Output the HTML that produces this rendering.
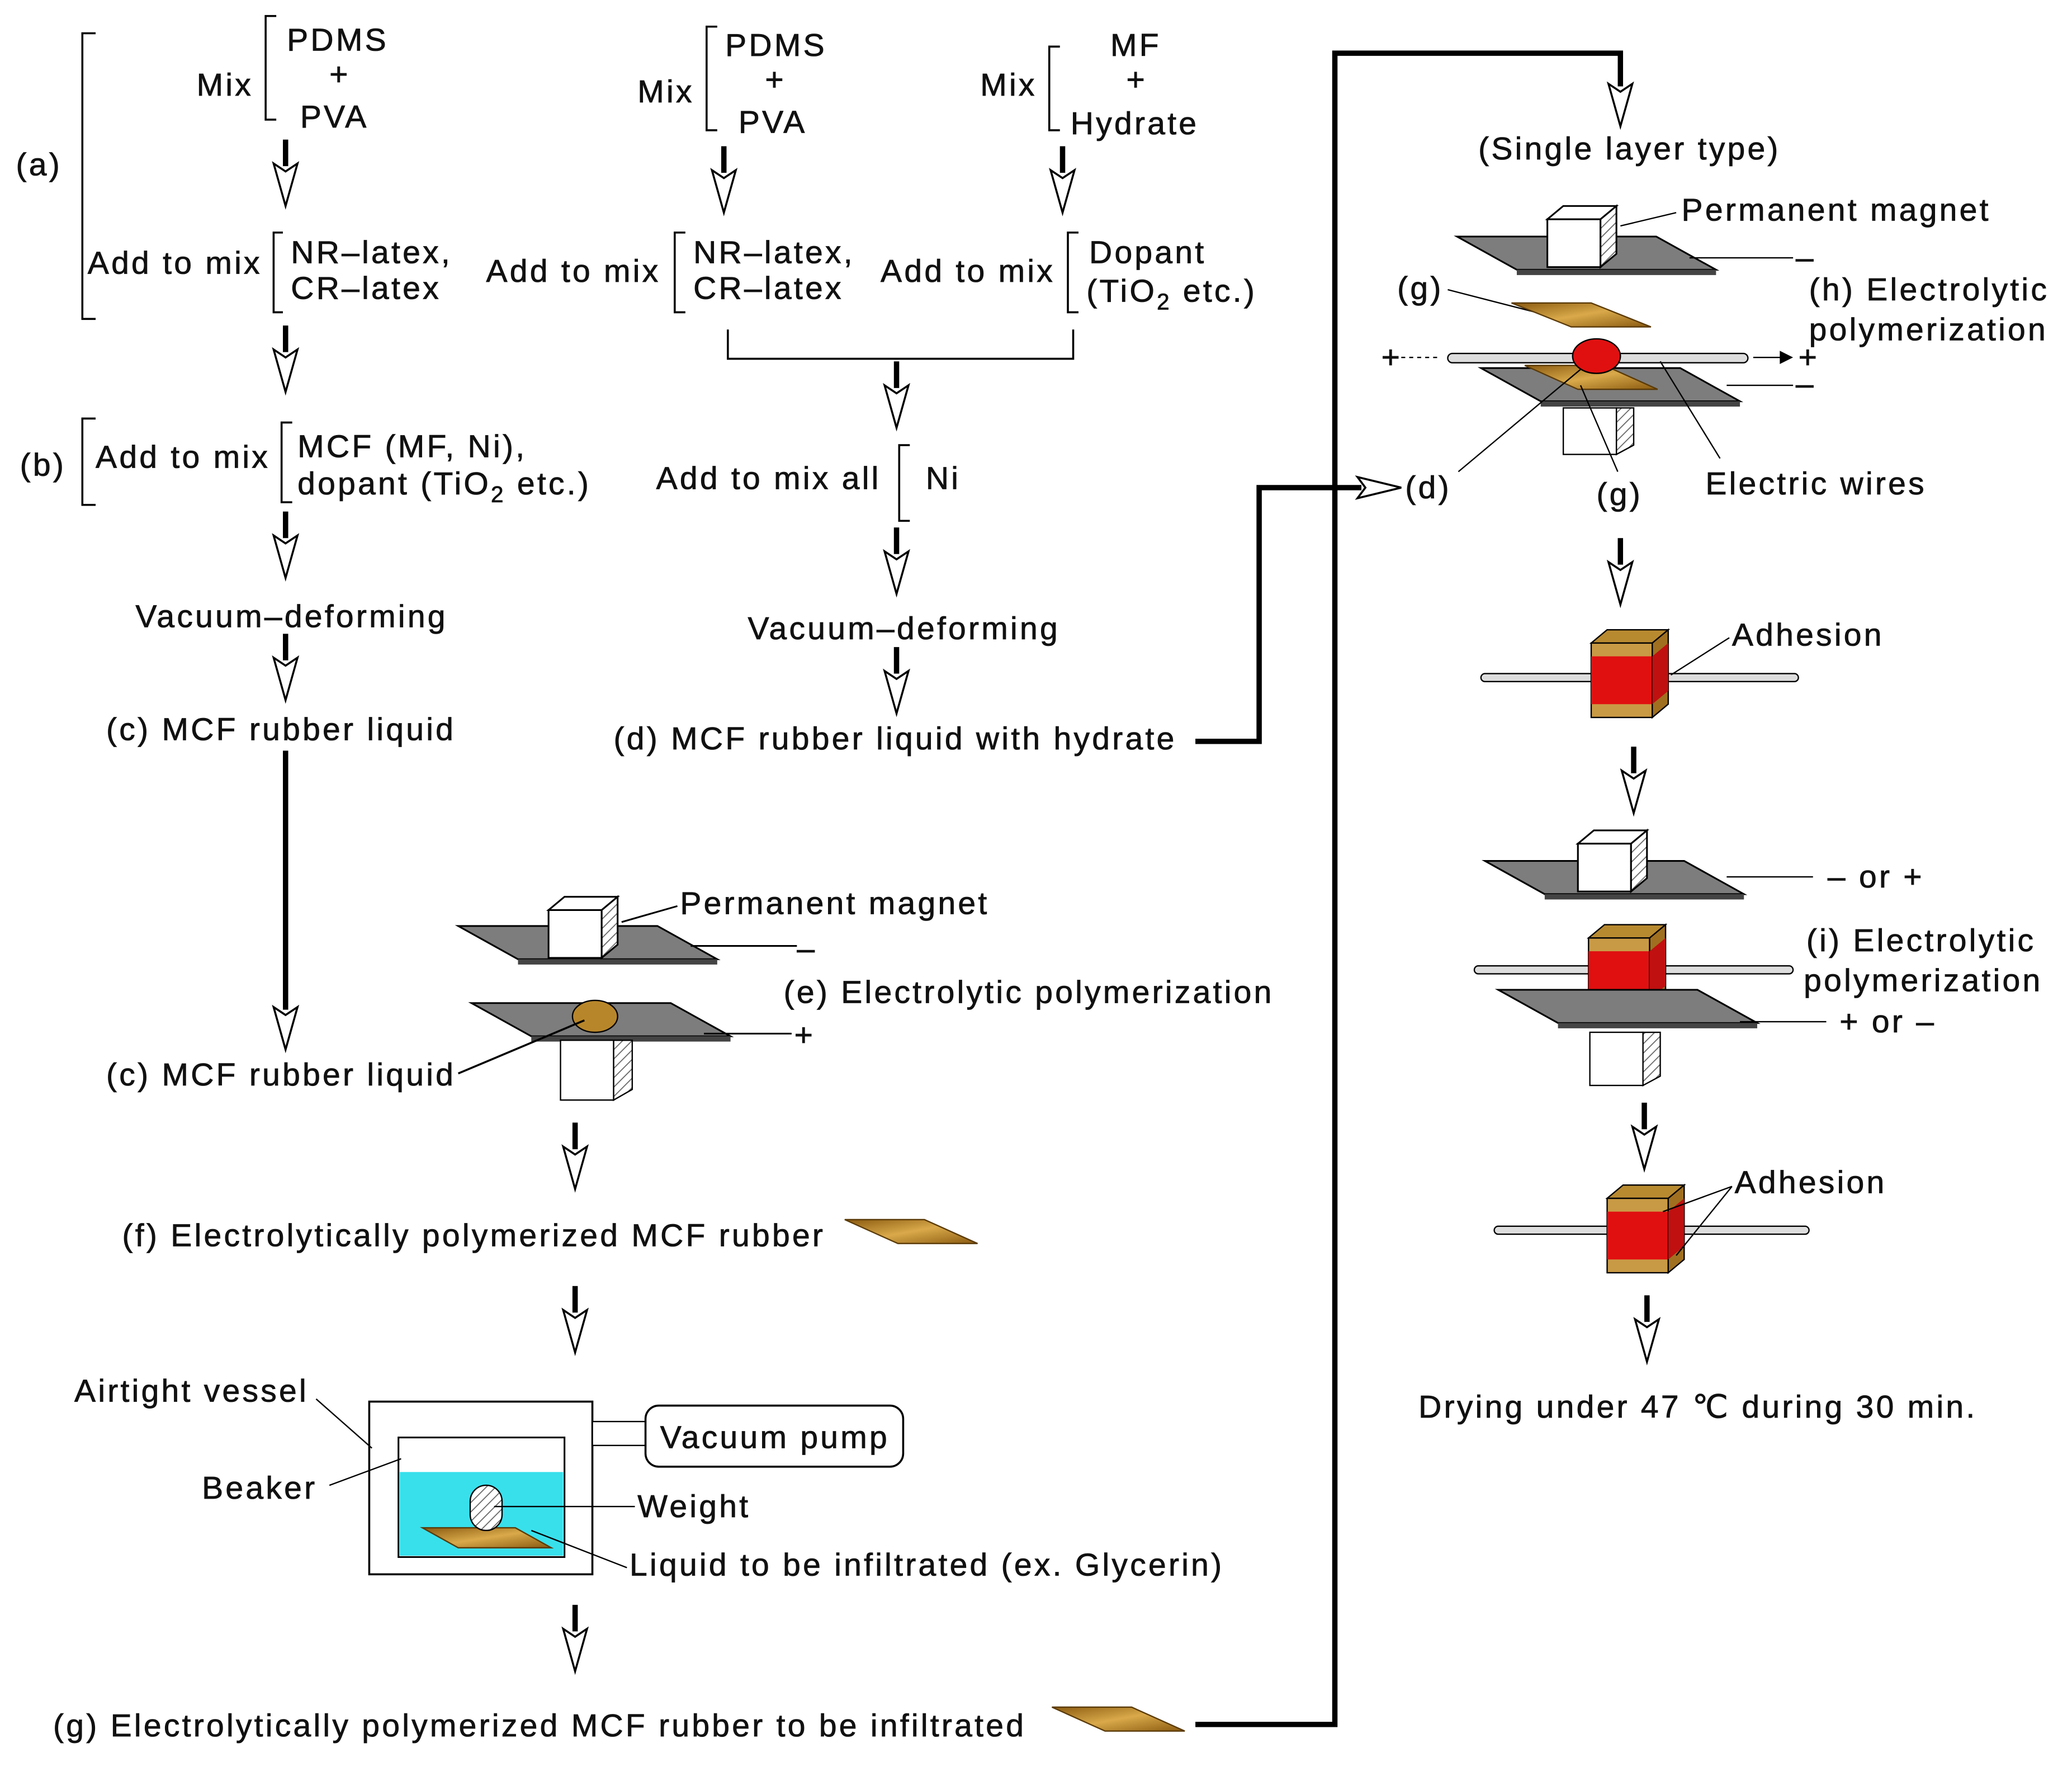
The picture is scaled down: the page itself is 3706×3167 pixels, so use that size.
<!DOCTYPE html>
<html><head><meta charset="utf-8"><style>
html,body{margin:0;padding:0;background:#fff;}
svg{display:block;}
text{font-family:"Liberation Sans",sans-serif;font-size:24px;letter-spacing:1.8px;fill:#111;stroke:#111;stroke-width:0.35px;}
</style></head><body>
<svg width="3706" height="3167" viewBox="0 0 1560 1333" xmlns="http://www.w3.org/2000/svg">
<defs>
<symbol id="da" overflow="visible"><line x1="0" y1="0" x2="0" y2="20" stroke="#000" stroke-width="4"/><polygon points="-9,18 0,24 9,18 0,50" fill="#fff" stroke="#000" stroke-width="1.5"/></symbol>
<pattern id="hat" width="5" height="5" patternUnits="userSpaceOnUse" patternTransform="rotate(45)"><rect width="5" height="5" fill="#fff"/><line x1="0" y1="0" x2="0" y2="5" stroke="#666" stroke-width="1.5"/></pattern>
<linearGradient id="gold" x1="0" y1="0" x2="1" y2="1"><stop offset="0" stop-color="#8a5a10"/><stop offset="0.5" stop-color="#d9a94a"/><stop offset="1" stop-color="#8a5a10"/></linearGradient>
<symbol id="mag" overflow="visible"><polygon points="0,10 12,0 52,0 40,10" fill="#fff" stroke="#000" stroke-width="1.3"/><rect x="0" y="10" width="40" height="36" fill="#fff" stroke="#000" stroke-width="1.3"/><polygon points="40,10 52,0 52,36 40,46" fill="url(#hat)" stroke="#000" stroke-width="1.3"/></symbol>
<symbol id="plate" overflow="visible"><polygon points="0,0 150,0 195,25 45,25" fill="#7d7d7d" stroke="#000" stroke-width="1.3"/><polygon points="45,25 195,25 195,29 45,29" fill="#444"/></symbol>
<symbol id="cube" overflow="visible"><polygon points="0,10 12,0 58,0 46,10" fill="#b88a30" stroke="#000" stroke-width="1"/><rect x="0" y="10" width="46" height="56" fill="#c99a45" stroke="#000"/><rect x="0" y="20" width="46" height="36" fill="#e01010"/><polygon points="46,10 58,0 58,56 46,66" fill="#a07020" stroke="#000"/><polygon points="46,20 58,10 58,46 46,56" fill="#c01010"/></symbol>
</defs>
<g stroke="#000" stroke-width="1.5" fill="none">
<path d="M72,25 H62 V240 H72"/>
<path d="M72,315 H62 V380 H72"/>
<path d="M208,12 H200 V90 H208"/>
<path d="M213,175 H206 V235 H213"/>
<path d="M220,318 H212 V378 H220"/>
<path d="M540,20 H532 V98 H540"/>
<path d="M516,175 H508 V235 H516"/>
<path d="M798,35 H790 V98 H798"/>
<path d="M812,175 H804 V235 H812"/>
<path d="M685,335 H677 V392 H685"/>
<path d="M548,248 V270 H808 V248"/>
</g>
<text x="12" y="132">(a)</text>
<text x="148" y="72">Mix</text>
<text x="216" y="38">PDMS</text><text x="248" y="64">+</text><text x="226" y="96">PVA</text>
<text x="66" y="206">Add to mix</text>
<text x="219" y="198">NR–latex,</text><text x="219" y="225">CR–latex</text>
<text x="15" y="358">(b)</text>
<text x="72" y="352">Add to mix</text>
<text x="224" y="344">MCF (MF, Ni),</text><text x="224" y="372">dopant (TiO<tspan font-size="17" dy="6">2</tspan><tspan dy="-6"> etc.)</tspan></text>
<text x="102" y="472">Vacuum–deforming</text>
<text x="80" y="557">(c) MCF rubber liquid</text>
<text x="480" y="77">Mix</text>
<text x="546" y="42">PDMS</text><text x="576" y="68">+</text><text x="556" y="100">PVA</text>
<text x="738" y="72">Mix</text>
<text x="836" y="42">MF</text><text x="848" y="68">+</text><text x="806" y="101">Hydrate</text>
<text x="366" y="212">Add to mix</text>
<text x="522" y="198">NR–latex,</text><text x="522" y="225">CR–latex</text>
<text x="663" y="212">Add to mix</text>
<text x="820" y="198">Dopant</text><text x="818" y="227">(TiO<tspan font-size="17" dy="6">2</tspan><tspan dy="-6"> etc.)</tspan></text>
<text x="494" y="368">Add to mix all</text><text x="697" y="368">Ni</text>
<text x="563" y="481">Vacuum–deforming</text>
<text x="462" y="564">(d) MCF rubber liquid with hydrate</text>
<use href="#da" x="215" y="105"/><use href="#da" x="215" y="245"/><use href="#da" x="215" y="385"/><use href="#da" x="215" y="477"/>
<use href="#da" x="545" y="110"/><use href="#da" x="800" y="110"/><use href="#da" x="675" y="272"/><use href="#da" x="675" y="397"/><use href="#da" x="675" y="487"/>
<line x1="215" y1="565" x2="215" y2="760" stroke="#000" stroke-width="4"/><polygon points="206,758 215,764 224,758 215,790" fill="#fff" stroke="#000" stroke-width="1.5"/>
<use href="#da" x="433" y="845"/><use href="#da" x="433" y="968"/><use href="#da" x="433" y="1208"/>
<use href="#da" x="1220" y="405"/><use href="#da" x="1230" y="562"/><use href="#da" x="1238" y="830"/><use href="#da" x="1240" y="975"/>
<polyline points="900,1298 1005,1298 1005,40 1220,40 1220,65" fill="none" stroke="#000" stroke-width="4"/>
<polygon points="1211,63 1220,69 1229,63 1220,95" fill="#fff" stroke="#000" stroke-width="1.5"/>
<polyline points="900,558 948,558 948,367 1025,367" fill="none" stroke="#000" stroke-width="4"/>
<polygon points="1022,359 1028,367 1022,375 1055,367" fill="#fff" stroke="#000" stroke-width="1.5"/>
<use href="#plate" x="345" y="697"/>
<use href="#mag" x="413" y="675"/>
<line x1="520" y1="712" x2="600" y2="712" stroke="#000" stroke-width="1.3"/><text x="600" y="722">–</text>
<use href="#plate" x="355" y="755"/>
<ellipse cx="448" cy="765" rx="17" ry="12" fill="#b8862a" stroke="#000"/>
<rect x="422" y="783" width="40" height="45" fill="#fff" stroke="#000"/><polygon points="462,783 476,783 476,820 462,828" fill="url(#hat)" stroke="#000"/>
<line x1="530" y1="778" x2="596" y2="778" stroke="#000" stroke-width="1.3"/><text x="598" y="787">+</text>
<line x1="468" y1="694" x2="510" y2="682" stroke="#000" stroke-width="1.3"/>
<text x="512" y="688">Permanent magnet</text>
<text x="590" y="755">(e) Electrolytic polymerization</text>
<text x="80" y="817">(c) MCF rubber liquid</text>
<line x1="345" y1="808" x2="440" y2="768" stroke="#000" stroke-width="1.5"/>
<text x="92" y="938">(f) Electrolytically polymerized MCF rubber</text>
<g transform="translate(636,918)"><polygon points="0,0 60,0 100,18 40,18" fill="url(#gold)" stroke="#5a3a08"/></g>
<rect x="278" y="1055" width="168" height="130" fill="#fff" stroke="#000" stroke-width="1.5"/>
<rect x="300" y="1082" width="125" height="90" fill="#fff" stroke="#000" stroke-width="1.3"/>
<rect x="301" y="1108" width="123" height="63" fill="#38e0ec"/>
<polygon points="318,1150 388,1150 415,1165 345,1165" fill="url(#gold)" stroke="#5a3a08"/>
<rect x="354" y="1118" width="24" height="34" rx="12" fill="url(#hat)" stroke="#000"/>
<rect x="446" y="1070" width="40" height="18" fill="#fff" stroke="#000"/>
<rect x="486" y="1058" width="194" height="46" rx="10" fill="#fff" stroke="#000" stroke-width="1.5"/>
<text x="497" y="1090">Vacuum pump</text>
<text x="56" y="1055">Airtight vessel</text><line x1="238" y1="1053" x2="280" y2="1090" stroke="#000"/>
<text x="152" y="1128">Beaker</text><line x1="248" y1="1118" x2="302" y2="1098" stroke="#000"/>
<text x="480" y="1142">Weight</text><line x1="372" y1="1134" x2="478" y2="1134" stroke="#000"/>
<text x="474" y="1186">Liquid to be infiltrated (ex. Glycerin)</text><line x1="400" y1="1152" x2="472" y2="1180" stroke="#000"/>
<text x="40" y="1307">(g) Electrolytically polymerized MCF rubber to be infiltrated</text>
<g transform="translate(792,1285)"><polygon points="0,0 60,0 100,18 40,18" fill="url(#gold)" stroke="#5a3a08"/></g>
<text x="1113" y="120">(Single layer type)</text>
<use href="#plate" x="1097" y="178"/>
<use href="#mag" x="1165" y="155"/>
<line x1="1220" y1="170" x2="1262" y2="160" stroke="#000"/><text x="1266" y="166">Permanent magnet</text>
<line x1="1272" y1="194" x2="1350" y2="194" stroke="#000"/><text x="1352" y="202">–</text>
<text x="1052" y="225">(g)</text><line x1="1090" y1="218" x2="1160" y2="236" stroke="#000"/>
<g transform="translate(1138,228)"><polygon points="0,0 60,0 105,18 45,18" fill="url(#gold)" stroke="#5a3a08"/></g>
<text x="1362" y="226">(h) Electrolytic</text><text x="1362" y="256">polymerization</text>
<use href="#plate" x="1115" y="277"/>
<g transform="translate(1148,275)"><polygon points="0,0 60,0 100,18 40,18" fill="url(#gold)" stroke="#5a3a08"/></g>
<rect x="1090" y="266" width="226" height="7" rx="3.5" fill="#ddd" stroke="#000"/>
<ellipse cx="1202" cy="268" rx="18" ry="13" fill="#e01010" stroke="#000"/>
<text x="1040" y="277">+</text><line x1="1055" y1="269" x2="1085" y2="269" stroke="#000" stroke-dasharray="3,3"/>
<line x1="1320" y1="269" x2="1345" y2="269" stroke="#000"/><polygon points="1340,264 1350,269 1340,274" fill="#000"/><text x="1354" y="277">+</text>
<line x1="1300" y1="290" x2="1350" y2="290" stroke="#000"/><text x="1352" y="297">–</text>
<rect x="1177" y="307" width="40" height="35" fill="#fff" stroke="#000"/><polygon points="1217,307 1230,307 1230,335 1217,342" fill="url(#hat)" stroke="#000"/>
<line x1="1098" y1="355" x2="1190" y2="278" stroke="#000"/>
<text x="1058" y="375">(d)</text>
<text x="1202" y="380">(g)</text><line x1="1218" y1="355" x2="1190" y2="290" stroke="#000"/>
<line x1="1295" y1="345" x2="1250" y2="272" stroke="#000"/>
<text x="1284" y="372">Electric wires</text>
<rect x="1115" y="507" width="110" height="6" rx="3" fill="#ddd" stroke="#000"/>
<rect x="1250" y="507" width="104" height="6" rx="3" fill="#ddd" stroke="#000"/>
<use href="#cube" x="1198" y="474"/>
<line x1="1258" y1="508" x2="1302" y2="480" stroke="#000"/><text x="1304" y="486">Adhesion</text>
<use href="#plate" x="1118" y="648"/>
<use href="#mag" x="1188" y="625"/>
<line x1="1300" y1="660" x2="1365" y2="660" stroke="#000"/><text x="1376" y="668">–  or  +</text>
<rect x="1110" y="727" width="90" height="6" rx="3" fill="#ddd" stroke="#000"/>
<rect x="1250" y="727" width="100" height="6" rx="3" fill="#ddd" stroke="#000"/>
<use href="#cube" x="1196" y="696"/>
<text x="1360" y="716">(i) Electrolytic</text><text x="1358" y="746">polymerization</text>
<use href="#plate" x="1128" y="745"/>
<line x1="1310" y1="769" x2="1375" y2="769" stroke="#000"/><text x="1385" y="777">+  or  –</text>
<rect x="1197" y="777" width="40" height="40" fill="#fff" stroke="#000"/><polygon points="1237,777 1250,777 1250,810 1237,817" fill="url(#hat)" stroke="#000"/>
<rect x="1125" y="923" width="95" height="6" rx="3" fill="#ddd" stroke="#000"/>
<rect x="1262" y="923" width="100" height="6" rx="3" fill="#ddd" stroke="#000"/>
<use href="#cube" x="1210" y="892"/>
<text x="1306" y="898">Adhesion</text><line x1="1304" y1="893" x2="1252" y2="912" stroke="#000"/><line x1="1304" y1="893" x2="1262" y2="945" stroke="#000"/>
<text x="1068" y="1067">Drying under 47 ℃ during 30 min.</text>
</svg>
</body></html>
